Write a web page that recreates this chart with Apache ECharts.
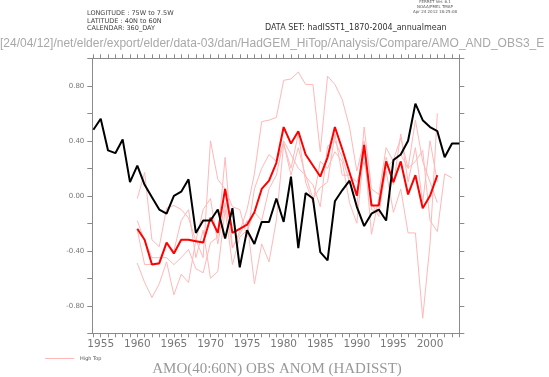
<!DOCTYPE html>
<html>
<head>
<meta charset="utf-8">
<script src="https://cdn.jsdelivr.net/npm/echarts@6/dist/echarts.min.js"></script>
<style>
  html, body { margin: 0; padding: 0; background: #fff; }
  #chart { width: 549px; height: 377px; }
</style>
</head>
<body>
<div id="chart"></div>
<script>
// observed AMO (HadISST), one value per year
const obsYears = [1954, 1955, 1956, 1957, 1958, 1959, 1960, 1961, 1962, 1963, 1964, 1965, 1966, 1967, 1968, 1969,
  1970, 1971, 1972, 1973, 1974, 1975, 1976, 1977, 1978, 1979, 1980, 1981, 1982, 1983, 1984, 1985, 1986, 1987,
  1988, 1989, 1990, 1991, 1992, 1993, 1994, 1995, 1996, 1997, 1998, 1999, 2000, 2001, 2002, 2003, 2004];
const obs = [0.48, 0.56, 0.33, 0.31, 0.41, 0.10, 0.22, 0.08, -0.01, -0.10, -0.13, 0.00, 0.03, 0.12, -0.27, -0.18,
  -0.18, -0.10, -0.31, -0.09, -0.52, -0.25, -0.35, -0.19, -0.19, -0.02, -0.19, 0.14, -0.38, 0.02, -0.02, -0.41,
  -0.47, -0.04, 0.04, 0.11, -0.08, -0.22, -0.13, -0.10, -0.18, 0.26, 0.30, 0.40, 0.67, 0.55, 0.50, 0.47, 0.28, 0.38, 0.38];

// High Top ensemble mean
const modelYears = [1960, 1961, 1962, 1963, 1964, 1965, 1966, 1967, 1968, 1969, 1970, 1971, 1972, 1973, 1974, 1975,
  1976, 1977, 1978, 1979, 1980, 1981, 1982, 1983, 1984, 1985, 1986, 1987, 1988, 1989, 1990, 1991, 1992, 1993,
  1994, 1995, 1996, 1997, 1998, 1999, 2000, 2001, 2002, 2003];
const ensMean = [-0.24, -0.32, -0.50, -0.49, -0.34, -0.42, -0.32, -0.32, -0.33, -0.34, -0.16, -0.27, 0.05, -0.27,
  -0.24, -0.21, -0.12, 0.05, 0.11, 0.24, 0.50, 0.38, 0.47, 0.30, 0.22, 0.14, 0.28, 0.50, 0.34, 0.17, 0.00, 0.37,
  -0.07, -0.07, 0.25, 0.10, 0.25, 0.01, 0.15, -0.09, 0.00, 0.15];

// individual High Top members
const member1 = [-0.02, 0.17, -0.32, -0.37, -0.09, -0.07, -0.10, -0.16, -0.33, -0.10, -0.02, -0.35, -0.05, -0.38,
  -0.26, -0.10, 0.16, 0.54, 0.55, 0.57, 0.84, 0.85, 0.90, 0.81, 0.81, 0.32, 0.87, 0.81, 0.70, 0.50, 0.18, 0.40,
  -0.10, -0.12, 0.20, 0.26, 0.42, 0.20, 0.25, 0.33, -0.18, -0.26, 0.16, 0.13];
const member2 = [-0.18, -0.33, -0.45, -0.45, -0.45, -0.50, -0.45, -0.39, -0.53, -0.56, -0.34, -0.30, 0.28, -0.38,
  -0.28, -0.18, -0.64, -0.35, -0.48, -0.18, 0.38, 0.20, 0.45, 0.10, -0.05, 0.25, 0.20, 0.32, 0.25, -0.05, -0.20, 0.35,
  -0.28, -0.02, 0.18, -0.12, 0.05, -0.27, -0.27, -0.89, -0.35, 0.60];
const member3 = [-0.49, -0.63, -0.74, -0.64, -0.48, -0.72, -0.57, -0.63, -0.32, -0.45, 0.40, 0.12, 0.05, -0.08,
  -0.10, -0.30, 0.05, 0.20, 0.30, 0.25, 0.38, 0.15, 0.35, 0.14, 0.08, -0.08, 0.36, 0.40, 0.28, 0.10, -0.08, 0.50,
  0.05, 0.01, 0.35, 0.25, 0.30, 0.20, 0.55, 0.25, 0.10, -0.05];
const member4 = [-0.25, -0.50, -0.50, -0.50, -0.35, -0.40, -0.18, -0.10, -0.45, -0.25, -0.60, -0.55, -0.10, -0.50,
  -0.30, -0.25, -0.12, -0.18, 0.05, 0.15, 0.40, 0.30, 0.20, 0.15, -0.02, 0.06, 0.10, 0.45, 0.15, 0.15, 0.10, 0.25,
  -0.05, -0.15, 0.28, 0.08, 0.45, 0.10, 0.35, -0.05, 0.40, 0.10];

const yearLabels = [1955, 1960, 1965, 1970, 1975, 1980, 1985, 1990, 1995, 2000];
const yTicks = [-1.0, -0.8, -0.6, -0.4, -0.2, 0.0, 0.2, 0.4, 0.6, 0.8, 1.0];
const yLabels = [-0.8, -0.4, 0.0, 0.4, 0.8];

const pairs = (xs, ys) => ys.map((v, i) => [xs[i], v]);
const tickYears = [];
for (let y = 1954; y <= 2004; y++) tickYears.push(y);

const chart = echarts.init(document.getElementById('chart'), null, { renderer: 'canvas' });

const axisGrey = '#8a8a8a';
const thinRed = '#ffb8b8';

const memberSeries = [member1, member2, member3, member4].map((m, i) => ({
  name: i === 0 ? 'High Top' : 'member' + (i + 1),
  type: 'line',
  data: pairs(modelYears, m),
  showSymbol: false,
  symbol: 'none',
  lineStyle: { color: thinRed, width: 1 },
  itemStyle: { color: thinRed },
  z: 1,
  silent: true
}));

const xAxisBase = {
  type: 'value',
  min: 1953.85,
  max: 2004,
  splitLine: { show: false },
  axisLine: { onZero: false, lineStyle: { color: axisGrey, width: 1 } },
  axisTick: { customValues: tickYears, length: 4, lineStyle: { color: axisGrey } },
  minorTick: { show: false }
};

const option = {
  animation: false,
  backgroundColor: '#fff',
  grid: { left: 92.3, right: 89.7, top: 58.3, bottom: 43.7, containLabel: false },
  legend: {
    data: ['High Top'],
    left: 40, top: 351,
    icon: 'rect',
    itemWidth: 29, itemHeight: 1,
    textStyle: { fontSize: 5, color: '#555', fontFamily: 'DejaVu Sans', padding: [0, 0, 0, 1] },
    selectedMode: false
  },
  xAxis: [
    Object.assign({}, xAxisBase, {
      position: 'bottom',
      axisLabel: {
        customValues: yearLabels,
        formatter: v => String(Math.round(v)),
        color: '#777', fontSize: 10.5, fontFamily: 'DejaVu Sans', margin: 5
      }
    }),
    Object.assign({}, xAxisBase, { position: 'top', axisLabel: { show: false } })
  ],
  yAxis: [0, 1].map(k => ({
    type: 'value',
    position: k === 0 ? 'left' : 'right',
    min: -1,
    max: 1,
    interval: 0.2,
    splitLine: { show: false },
    axisLine: { show: true, onZero: false, lineStyle: { color: axisGrey } },
    axisTick: { show: true, customValues: yTicks, length: 5, lineStyle: { color: axisGrey } },
    axisLabel: k === 0 ? {
      customValues: yLabels,
      formatter: v => v.toFixed(2),
      color: '#777', fontSize: 7, fontFamily: 'DejaVu Sans', margin: 8
    } : { show: false }
  })),
  series: memberSeries.concat([
    {
      name: 'ensemble mean',
      type: 'line',
      data: pairs(modelYears, ensMean),
      showSymbol: false,
      symbol: 'none',
      lineStyle: { color: '#ff0000', width: 2 },
      z: 3,
      silent: true
    },
    {
      name: 'HadISST',
      type: 'line',
      data: pairs(obsYears, obs),
      showSymbol: false,
      symbol: 'none',
      lineStyle: { color: '#000000', width: 2 },
      z: 4,
      silent: true
    }
  ]),
  graphic: [
    { type: 'text', left: 87, top: 10, style: { text: 'LONGITUDE : 75W to 7.5W', fontSize: 6.5, fill: '#444', fontFamily: 'DejaVu Sans' } },
    { type: 'text', left: 87, top: 18, style: { text: 'LATITUDE : 40N to 60N', fontSize: 6.5, fill: '#444', fontFamily: 'DejaVu Sans' } },
    { type: 'text', left: 87, top: 25, style: { text: 'CALENDAR: 360_DAY', fontSize: 6.5, fill: '#444', fontFamily: 'DejaVu Sans' } },
    { type: 'text', left: 265, top: 24, style: { text: 'DATA SET: hadISST1_1870-2004_annualmean', fontSize: 8, fill: '#333', fontFamily: 'DejaVu Sans' } },
    { type: 'text', x: 435, y: 0, style: { text: 'FERRET Ver. 6.1', fontSize: 4, fill: '#555', align: 'center', fontFamily: 'DejaVu Sans' } },
    { type: 'text', x: 435, y: 5, style: { text: 'NOAA/PMEL TMAP', fontSize: 4, fill: '#555', align: 'center', fontFamily: 'DejaVu Sans' } },
    { type: 'text', x: 435, y: 10, style: { text: 'Apr 24 2012 18:25:08', fontSize: 4, fill: '#555', align: 'center', fontFamily: 'DejaVu Sans' } },
    { type: 'text', x: 0, y: 38, style: { text: '[24/04/12]/net/elder/export/elder/data-03/dan/HadGEM_HiTop/Analysis/Compare/AMO_AND_OBS3_E', fontSize: 12, fill: '#a8a8a8', fontFamily: 'Liberation Sans' } },
    { type: 'text', x: 277, y: 369, style: { text: 'AMO(40:60N) OBS ANOM (HADISST)', fontSize: 15, fill: '#999', align: 'center', verticalAlign: 'middle', fontFamily: 'Liberation Serif' } }
  ]
};

chart.setOption(option);
</script>
</body>
</html>
